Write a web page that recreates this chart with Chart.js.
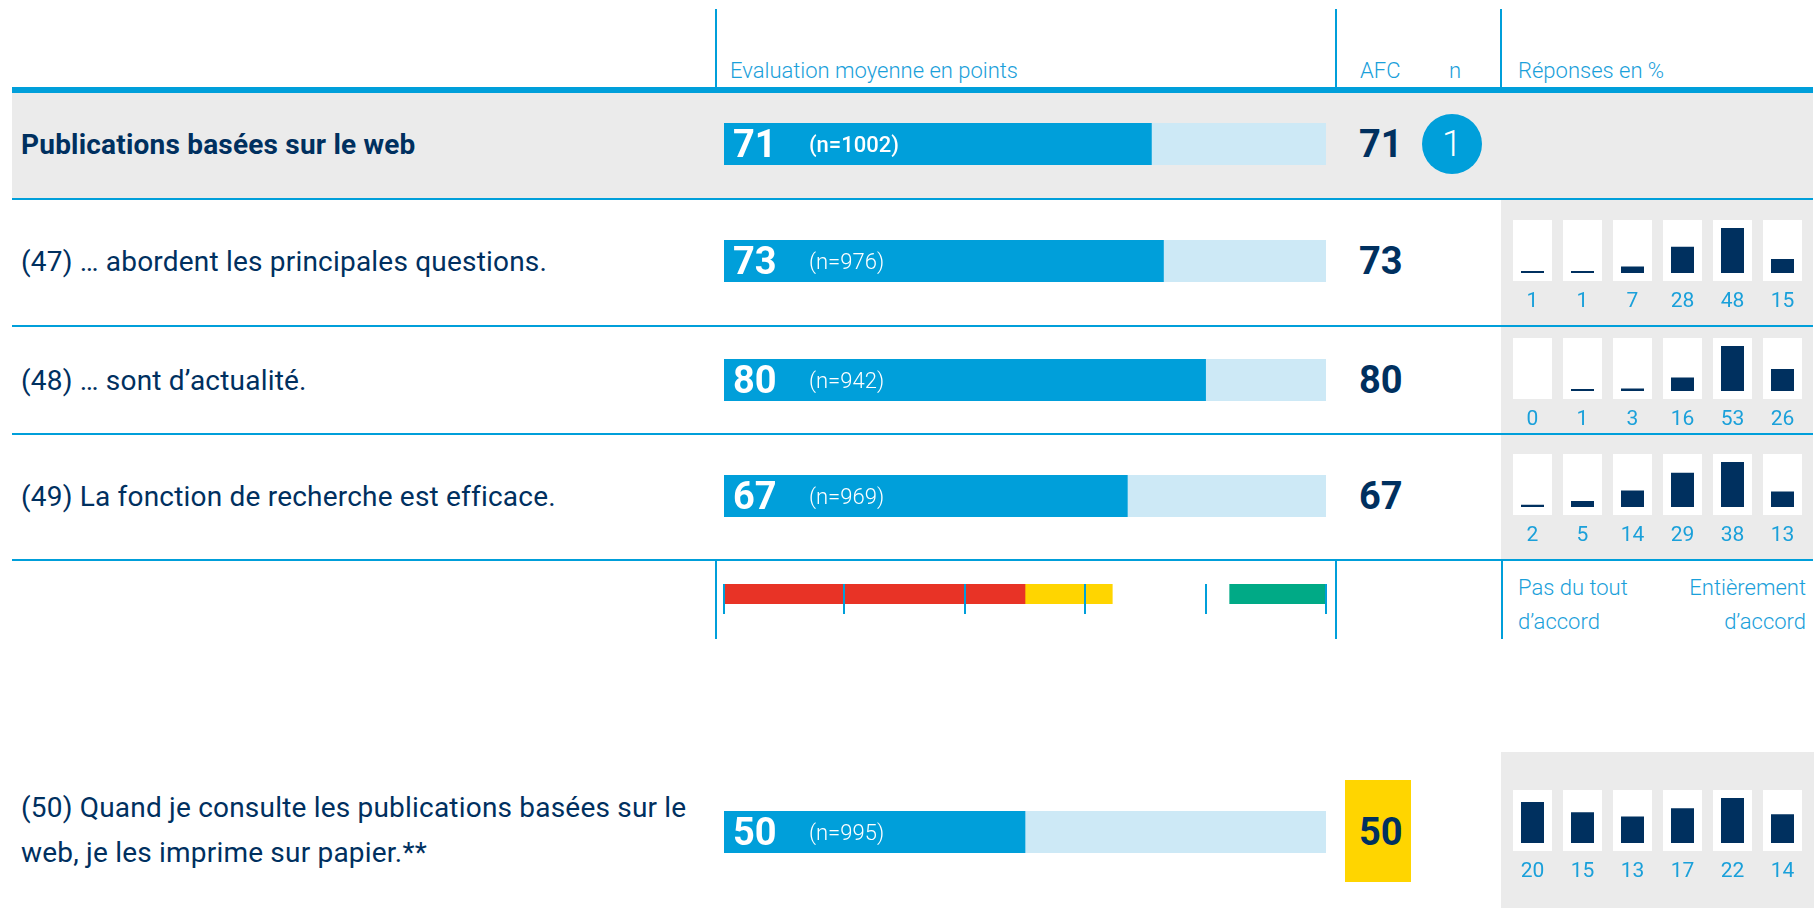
<!DOCTYPE html>
<html lang="fr">
<head>
<meta charset="utf-8">
<title>Publications basées sur le web</title>
<script src="https://cdn.jsdelivr.net/npm/chart.js@4.4.1/dist/chart.umd.min.js"></script>
<style>
  html, body { margin: 0; padding: 0; background: #fff; overflow: hidden; }
  #page { position: relative; width: 1818px; height: 909px; overflow: hidden;
          font-family: Roboto, "Noto Sans", sans-serif; color: #00305f; }
  #page div, #page canvas { position: absolute; }
  .line { background: #009fda; }
  .gray { background: #ebebeb; }
  .head { font-size: 22px; font-weight: 300; line-height: 24px; color: #1aa0da; white-space: nowrap; }
  .legend { font-size: 22px; font-weight: 300; line-height: 34px; color: #1aa0da; white-space: nowrap; }
  .label { left: 21px; font-size: 28px; line-height: 46px; letter-spacing: 0.2px; }
  .afc { left: 1359px; font-size: 38px; font-weight: 700; line-height: 42px; }
  .badge { width: 60px; height: 60px; border-radius: 50%; background: #009fda; color: #fff;
           font-size: 36px; font-weight: 300; line-height: 60px; text-align: center; }
</style>
</head>
<body>
<div id="page">
  <!-- table frame -->
  <div class="line" style="left:715px;top:9px;width:2px;height:78px"></div>
  <div class="line" style="left:1335px;top:9px;width:2px;height:78px"></div>
  <div class="line" style="left:1500px;top:9px;width:2px;height:78px"></div>
  <div class="head" style="left:730px;top:59px">Evaluation moyenne en points</div>
  <div class="head" style="left:1360px;top:59px">AFC</div>
  <div class="head" style="left:1449px;top:59px">n</div>
  <div class="head" style="left:1518px;top:59px">Réponses en %</div>

  <div class="gray" style="left:12px;top:93px;width:1801px;height:105px"></div>
  <div class="gray" style="left:1501px;top:200px;width:312px;height:359px"></div>
  <div class="gray" style="left:1501px;top:752px;width:313px;height:156px"></div>
  <div style="left:1345px;top:780px;width:66px;height:102px;background:#ffd500"></div>

  <div class="line" style="left:12px;top:87px;width:1801px;height:6px"></div>
  <div class="line" style="left:12px;top:198px;width:1801px;height:2px"></div>
  <div class="line" style="left:12px;top:325px;width:1801px;height:2px"></div>
  <div class="line" style="left:12px;top:433px;width:1801px;height:2px"></div>
  <div class="line" style="left:12px;top:559px;width:1801px;height:2px"></div>

  <div class="line" style="left:715px;top:561px;width:2px;height:78px"></div>
  <div class="line" style="left:1335px;top:561px;width:2px;height:78px"></div>
  <div class="line" style="left:1501px;top:561px;width:2px;height:78px"></div>
  <div class="legend" style="left:1518px;top:571px">Pas du tout<br>d’accord</div>
  <div class="legend" style="right:12px;top:571px;text-align:right">Entièrement<br>d’accord</div>
</div>

<script>
// survey block: web publications
const items = [
  'Publications basées sur le web',
  '(47) … abordent les principales questions.',
  '(48) … sont d’actualité.',
  '(49) La fonction de recherche est efficace.',
  '(50) Quand je consulte les publications basées sur le web, je les imprime sur papier.**'
];
const meanScores = [71, 73, 80, 67, 50];
const sampleSizes = [1002, 976, 942, 969, 995];
const afcScores = [71, 73, 80, 67, 50];
const badgeNumbers = [1, null, null, null, null];

// answer distribution in %, from "pas du tout" to "entièrement d'accord"
const answerLevels = ['1', '2', '3', '4', '5', '6'];
const answers47 = [1, 1, 7, 28, 48, 15];
const answers48 = [0, 1, 3, 16, 53, 26];
const answers49 = [2, 5, 14, 29, 38, 13];
const answers50 = [20, 15, 13, 17, 22, 14];

// colour scale under the score column
const scoreTicks = [0, 20, 40, 60, 80, 100];
const bandLimits = [[0, 50], [50, 64.5], [84, 100]];

// look and placement
const BLUE = '#009fda';
const TRACK = '#cde9f6';
const NAVY = '#00305f';
const TEXT_BLUE = '#1aa0da';
const bandColors = ['#e83326', '#ffd500', '#00aa86'];
const rowMiddles = [144, 261, 379.5, 496, 832];
const boxTops = [null, 220, 338, 454, 790];
const answerRows = [null, answers47, answers48, answers49, answers50];

Chart.defaults.font.family = 'Roboto, "Noto Sans", sans-serif';

const page = document.getElementById('page');

function addDiv(cls, css, html) {
  const d = document.createElement('div');
  d.className = cls;
  Object.assign(d.style, css);
  d.innerHTML = html;
  page.appendChild(d);
  return d;
}

function addCanvas(left, top, w, h) {
  const c = document.createElement('canvas');
  c.width = w;
  c.height = h;
  Object.assign(c.style, { left: left + 'px', top: top + 'px', width: w + 'px', height: h + 'px' });
  page.appendChild(c);
  return c;
}

// value and sample size written inside the score bar
const scoreText = {
  id: 'scoreText',
  afterDatasetsDraw(chart, args, opts) {
    const ctx = chart.ctx;
    const bar = chart.getDatasetMeta(0).data[0];
    const x0 = chart.scales.x.getPixelForValue(0);
    ctx.save();
    ctx.fillStyle = '#fff';
    ctx.textBaseline = 'alphabetic';
    ctx.font = '700 38px Roboto';
    ctx.fillText(String(opts.value), x0 + 9, bar.y + 13);
    ctx.font = (opts.strong ? '500' : '300') + ' 22px Roboto';
    ctx.fillText('(n=' + opts.n + ')', x0 + 85, bar.y + 8);
    ctx.restore();
  }
};

// white tiles behind the answer bars and the percentages under them
const answerTiles = {
  id: 'answerTiles',
  beforeDatasetsDraw(chart) {
    const { ctx, chartArea } = chart;
    ctx.save();
    ctx.fillStyle = '#fff';
    chart.getDatasetMeta(0).data.forEach(el => {
      ctx.fillRect(Math.round(el.x - 19.5), chartArea.top - 8, 39, chartArea.bottom - chartArea.top + 16);
    });
    ctx.restore();
  },
  afterDatasetsDraw(chart) {
    const { ctx, chartArea } = chart;
    const values = chart.data.datasets[0].data;
    ctx.save();
    ctx.fillStyle = TEXT_BLUE;
    ctx.font = '400 21px Roboto';
    ctx.textAlign = 'center';
    ctx.textBaseline = 'alphabetic';
    chart.getDatasetMeta(0).data.forEach((el, i) => {
      ctx.fillText(String(values[i]), el.x, chartArea.bottom + 34);
    });
    ctx.restore();
  }
};

function scoreChart(i) {
  const c = addCanvas(724, Math.round(rowMiddles[i] - 21), 602, 42);
  new Chart(c, {
    type: 'bar',
    data: {
      labels: [items[i]],
      datasets: [
        { data: [meanScores[i]], backgroundColor: BLUE, order: 0,
          grouped: false, barPercentage: 1, categoryPercentage: 1 },
        { data: [100], backgroundColor: TRACK, order: 1,
          grouped: false, barPercentage: 1, categoryPercentage: 1 }
      ]
    },
    options: {
      indexAxis: 'y',
      responsive: false,
      animation: false,
      devicePixelRatio: 1,
      layout: { padding: 0 },
      scales: {
        x: { display: false, min: 0, max: 100 },
        y: { display: false }
      },
      plugins: {
        legend: { display: false },
        tooltip: { enabled: false },
        scoreText: { value: meanScores[i], n: sampleSizes[i], strong: i === 0 }
      }
    },
    plugins: [scoreText]
  });
}

function answerChart(i) {
  const values = answerRows[i];
  const c = addCanvas(1501, boxTops[i], 312, 110);
  new Chart(c, {
    type: 'bar',
    data: {
      labels: answerLevels,
      datasets: [{
        data: values,
        backgroundColor: ctx => ctx.raw === 0 ? 'rgba(0,0,0,0)' : NAVY,
        barPercentage: 23 / 50,
        categoryPercentage: 1,
        minBarLength: 2
      }]
    },
    options: {
      responsive: false,
      animation: false,
      devicePixelRatio: 1,
      layout: { padding: { left: 6.5, right: 5.5, top: 8, bottom: 57 } },
      scales: {
        x: { display: false },
        y: { display: false, min: 0, max: Math.max(...values) }
      },
      plugins: { legend: { display: false }, tooltip: { enabled: false } }
    },
    plugins: [answerTiles]
  });
}

function scaleChart() {
  const c = addCanvas(714, 584, 622, 30);
  new Chart(c, {
    type: 'bar',
    data: {
      labels: [''],
      datasets: bandLimits.map((b, k) => ({
        data: [b], backgroundColor: bandColors[k],
        grouped: false, barPercentage: 1, categoryPercentage: 1
      }))
    },
    options: {
      indexAxis: 'y',
      responsive: false,
      animation: false,
      devicePixelRatio: 1,
      layout: { padding: { left: 10, right: 10, top: 0, bottom: 0 } },
      scales: {
        x: {
          min: 0, max: 100, z: 1,
          afterBuildTicks: axis => { axis.ticks = scoreTicks.map(v => ({ value: v })); },
          ticks: { display: false },
          grid: { color: BLUE, lineWidth: 2, drawTicks: true, tickLength: 10, z: 1 },
          border: { display: false }
        },
        y: { display: false }
      },
      plugins: { legend: { display: false }, tooltip: { enabled: false } }
    }
  });
}

items.forEach((text, i) => {
  const mid = rowMiddles[i];
  if (i === items.length - 1) {
    addDiv('label', { top: (mid - 47) + 'px', width: '690px', lineHeight: '45px' }, text);
  } else {
    addDiv('label', { top: (mid - 22) + 'px', fontWeight: i === 0 ? '700' : '400' }, text);
  }
  addDiv('afc', { top: (mid - 21) + 'px' }, String(afcScores[i]));
  if (badgeNumbers[i] != null) {
    addDiv('badge', { left: '1422px', top: (mid - 30) + 'px' }, String(badgeNumbers[i]));
  }
  scoreChart(i);
  if (answerRows[i]) answerChart(i);
});

scaleChart();
</script>
</body>
</html>
